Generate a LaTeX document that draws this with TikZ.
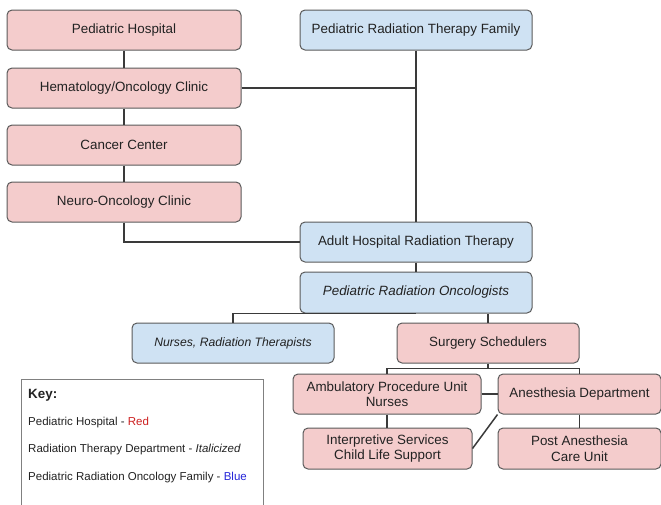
\documentclass[tikz,border=0pt]{standalone}
\usepackage{fontspec}
\setmainfont{Liberation Sans}
\definecolor{hospred}{HTML}{F4CCCC}
\definecolor{famblue}{HTML}{CFE2F3}
\definecolor{edgegray}{HTML}{5A5A5A}
\definecolor{linegray}{HTML}{3A3A3A}
\definecolor{textgray}{HTML}{222222}
\definecolor{keyred}{HTML}{CC1F1F}
\definecolor{keyblue}{HTML}{2424D8}

\def\blocwidth{234}
\def\blocheight{40}

\begin{document}
\begin{tikzpicture}[x=1pt,y=-1pt,
% Here are defined the blocks and the key parameters
bloc/.style={
rectangle, rounded corners=5pt,
draw=edgegray, line width=1pt, inner sep=0,
align=center, text=textgray,
font=\fontsize{13.4}{15.5}\selectfont },
blocred/.style={
bloc, fill=hospred },
blocblue/.style={
bloc, fill=famblue },
wide/.style={
minimum width=\blocwidth, minimum height=\blocheight },
link/.style={
draw=linegray, line width=1.5pt },
keybox/.style={
rectangle, draw=gray, line width=1pt, inner sep=0,
anchor=north west },
keytext/.style={
anchor=west, inner sep=0, text=textgray,
font=\fontsize{11.5}{13}\selectfont },
]
\useasboundingbox (0,0) rectangle (661,504);

%%%%%%%%%%%%%%%%%%%%%%%%
%%% THE LEFT COLUMN
%%%%%%%%%%%%%%%%%%%%%%%%
\node[blocred,wide] (ph) at (124,30) {Pediatric Hospital};
\node[blocred,wide] (hoc) at (124,88) {Hematology/Oncology Clinic};
\node[blocred,wide] (cc) at (124,145) {Cancer Center};
\node[blocred,wide] (noc) at (124,202) {Neuro-Oncology Clinic};

%%%%%%%%%%%%%%%%%%%%%%%%
%%% THE RIGHT COLUMN
%%%%%%%%%%%%%%%%%%%%%%%%
\node[blocblue,minimum width=232,minimum height=40] (prtf) at (416,30) {Pediatric Radiation Therapy Family};
\node[blocblue,minimum width=232,minimum height=40] (ahrt) at (416,242) {Adult Hospital Radiation Therapy};
\node[blocblue,minimum width=232,minimum height=41] (pro) at (416,292.5) {\itshape Pediatric Radiation Oncologists};

% The lower blocks
\node[blocblue,minimum width=202,minimum height=40,font=\fontsize{12.2}{14}\selectfont\itshape] (nrt) at (233,343) {Nurses, Radiation Therapists};
\node[blocred,minimum width=182,minimum height=40] (ss) at (488,343) {Surgery Schedulers};
\node[blocred,minimum width=188,minimum height=40] (apu) at (387,394) {Ambulatory Procedure Unit\\Nurses};
\node[blocred,minimum width=163,minimum height=40] (ad) at (579.5,394) {Anesthesia Department};
\node[blocred,minimum width=169,minimum height=41] (isc) at (387.5,448.5) {Interpretive Services\\Child Life Support};
\node[blocred,minimum width=163,minimum height=41] (pacu) at (579.5,448.5) {Post Anesthesia\\Care Unit};

%%%% The connectors
\draw[link] (ph) -- (hoc);
\draw[link] (hoc) -- (cc);
\draw[link] (cc) -- (noc);
\draw[link] (prtf) -- (ahrt);
\draw[link] (hoc) -- (hoc -| prtf);
\draw[link] (noc) |- (ahrt);
\draw[link] (ahrt) -- (pro);
\draw[link] (nrt) |- (pro.south);
\draw[link] (ss) -- (ss |- pro.south);
\draw[link] (ss.south) -- ++(0,5) coordinate (ssfork);
\draw[link] (apu) |- (ssfork) -| (ad);
\draw[link] (apu) -- (ad);
\draw[link] (apu.south) -- (apu.south |- isc.north);
\draw[link] (ad.south west) -- (isc.east);
\draw[link] (ad) -- (pacu);

%%%% The key
\node[keybox,minimum width=242,minimum height=128] (key) at (21,379) {};
\node[keytext,font=\fontsize{13.4}{15}\selectfont\bfseries] (keytitle) at (28,395) {Key:};
\node[keytext] (keyhosp) at (28,423) {Pediatric Hospital - \textcolor{keyred}{Red}};
\node[keytext] (keyrad) at (28,450) {Radiation Therapy Department - \textit{Italicized}};
\node[keytext] (keyfam) at (28,478) {Pediatric Radiation Oncology Family - \textcolor{keyblue}{Blue}};

\end{tikzpicture}
\end{document}
